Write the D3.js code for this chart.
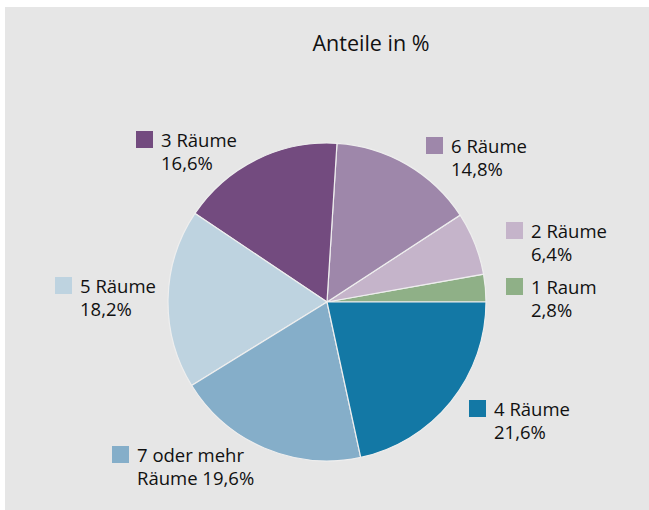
<!DOCTYPE html>
<html>
<head>
<meta charset="utf-8">
<script src="https://cdn.jsdelivr.net/npm/d3@7"></script>
<style>
  body { margin: 0; background: #fff; }
  svg text { font-family: "Open Sans", "Noto Sans", sans-serif; fill: #111; }
</style>
</head>
<body>
<div id="chart"></div>
<script>
// Slices, counter-clockwise from 3 o'clock
var categories = ["1 Raum", "2 Räume", "6 Räume", "3 Räume", "5 Räume", "7 oder mehr Räume", "4 Räume"];
var values = [2.8, 6.4, 14.8, 16.6, 18.2, 19.6, 21.6];
var colors = ["#8fb087", "#c5b4ca", "#9e87aa", "#734b7f", "#bed3e0", "#85aec9", "#1378a5"];
var labelLines = [
  ["1 Raum", "2,8%"],
  ["2 Räume", "6,4%"],
  ["6 Räume", "14,8%"],
  ["3 Räume", "16,6%"],
  ["5 Räume", "18,2%"],
  ["7 oder mehr", "Räume 19,6%"],
  ["4 Räume", "21,6%"]
];

var width = 649, height = 510;
var cx = 327, cy = 302, radius = 159;

var svg = d3.select("#chart")
  .append("svg")
    .attr("width", width)
    .attr("height", height);

// background panel
svg.append("rect")
  .attr("x", 5)
  .attr("y", 7)
  .attr("width", width - 5)
  .attr("height", height - 7)
  .attr("fill", "#e6e6e6");

svg.append("text")
  .attr("x", 371)
  .attr("y", 51)
  .attr("text-anchor", "middle")
  .style("font-size", "21.5px")
  .text("Anteile in %");

var pie = d3.pie()
  .sort(null)
  .startAngle(Math.PI / 2)
  .endAngle(Math.PI / 2 - 2 * Math.PI);

var arc = d3.arc().innerRadius(0).outerRadius(radius);

var g = svg.append("g")
  .attr("transform", "translate(" + cx + "," + cy + ")");

g.selectAll("path")
  .data(pie(values))
  .enter()
  .append("path")
    .attr("d", arc)
    .attr("fill", function(d, i) { return colors[i]; })
    .attr("stroke", "#eeeeee")
    .attr("stroke-width", 1.2);

// legend label positions (square top-left)
var legendPos = [
  [506, 278], [506, 222], [426, 137], [136, 131],
  [55, 277], [112, 446], [469, 400]
];

var leg = svg.selectAll("g.leg")
  .data(categories)
  .enter()
  .append("g")
    .attr("class", "leg")
    .attr("transform", function(d, i) { return "translate(" + legendPos[i][0] + "," + legendPos[i][1] + ")"; });

leg.append("rect")
  .attr("width", 17)
  .attr("height", 17)
  .attr("fill", function(d, i) { return colors[i]; });

leg.append("text")
  .attr("x", 25)
  .attr("y", 16)
  .style("font-size", "18.5px")
  .text(function(d, i) { return labelLines[i][0]; });

leg.append("text")
  .attr("x", 25)
  .attr("y", 39)
  .style("font-size", "18.5px")
  .text(function(d, i) { return labelLines[i][1]; });
</script>
</body>
</html>
